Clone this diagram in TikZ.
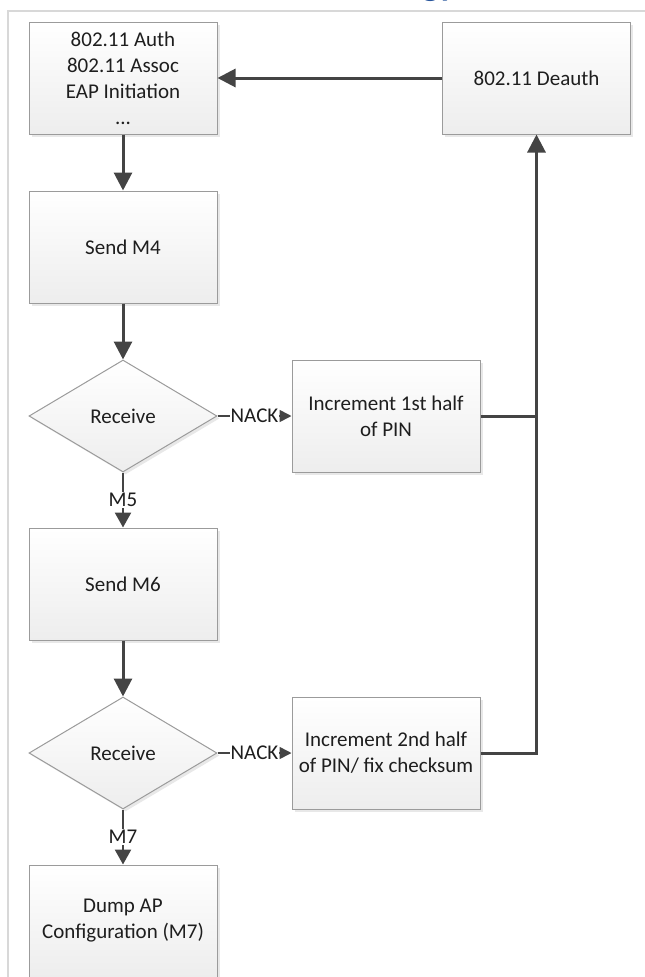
\documentclass[tikz,border=0pt]{standalone}
\usepackage{fontspec}
\setmainfont{Carlito}
\usepackage{xcolor}
\usetikzlibrary{shapes.geometric,arrows.meta,shadows}

\definecolor{linegray}{RGB}{68,68,68}
\definecolor{boxgray}{RGB}{155,155,155}
\definecolor{framegray}{RGB}{216,216,216}
\definecolor{titleblue}{RGB}{41,86,156}
\definecolor{textgray}{RGB}{30,30,30}

\tikzset{
  box/.style={draw=boxgray, line width=1pt, top color=white, bottom color=black!7,
    minimum width=188pt, minimum height=112pt, align=center, text=textgray,
    font=\fontsize{21}{26}\selectfont,
    drop shadow={opacity=0.18, shadow xshift=2.5pt, shadow yshift=-2.5pt}},
  decision/.style={box, diamond, aspect=1.68, inner sep=0pt},
  flow/.style={draw=linegray, line width=3pt, -{Triangle[length=18pt,width=18pt]}},
  answer/.style={draw=linegray, line width=2.6pt, -{Triangle[length=15pt,width=16pt]}},
  nack/.style={draw=linegray, line width=1.6pt, -{Triangle[length=12pt,width=12pt]}},
  link/.style={draw=linegray, line width=3pt},
  lbl/.style={fill=white, inner sep=1pt, text=textgray, font=\fontsize{21}{26}\selectfont}
}

\begin{document}
\begin{tikzpicture}[x=1pt,y=-1pt]
\useasboundingbox (0,0) rectangle (645,977);

\draw[framegray, line width=2pt] (8,990) -- (8,11) -- (660,11);
\node[anchor=base west, inner sep=0pt, text=titleblue, font=\fontsize{36}{40}\selectfont\bfseries] (0) at (422,-4.8) {gy};

\node[box] (1) at (123,78) {802.11 Auth\\802.11 Assoc\\EAP Initiation\\...};
\node[box] (2) at (536.5,78) {802.11 Deauth};
\node[box] (3) at (123,247) {Send M4};
\node[decision] (4) at (123,416) {Receive};
\node[box] (5) at (386,416) {Increment 1st half\\of PIN};
\node[box] (6) at (123,584) {Send M6};
\node[decision] (7) at (123,753) {Receive};
\node[box] (8) at (386,753) {Increment 2nd half\\of PIN/ fix checksum};
\node[box] (9) at (123,921) {Dump AP\\Configuration (M7)};

\draw[flow] (2)--(1);
\draw[flow] (1)--(3);
\draw[flow] (3)--(4);
\draw[nack] (4)--(5) node[lbl,midway]{NACK};
\draw[answer] (4)--(6) node[lbl,midway]{M5};
\draw[flow] (6)--(7);
\draw[nack] (7)--(8) node[lbl,midway]{NACK};
\draw[answer] (7)--(9) node[lbl,midway]{M7};
\draw[link] (5)--(5 -| 2);
\draw[flow] (8)-|(2);

\end{tikzpicture}
\end{document}
